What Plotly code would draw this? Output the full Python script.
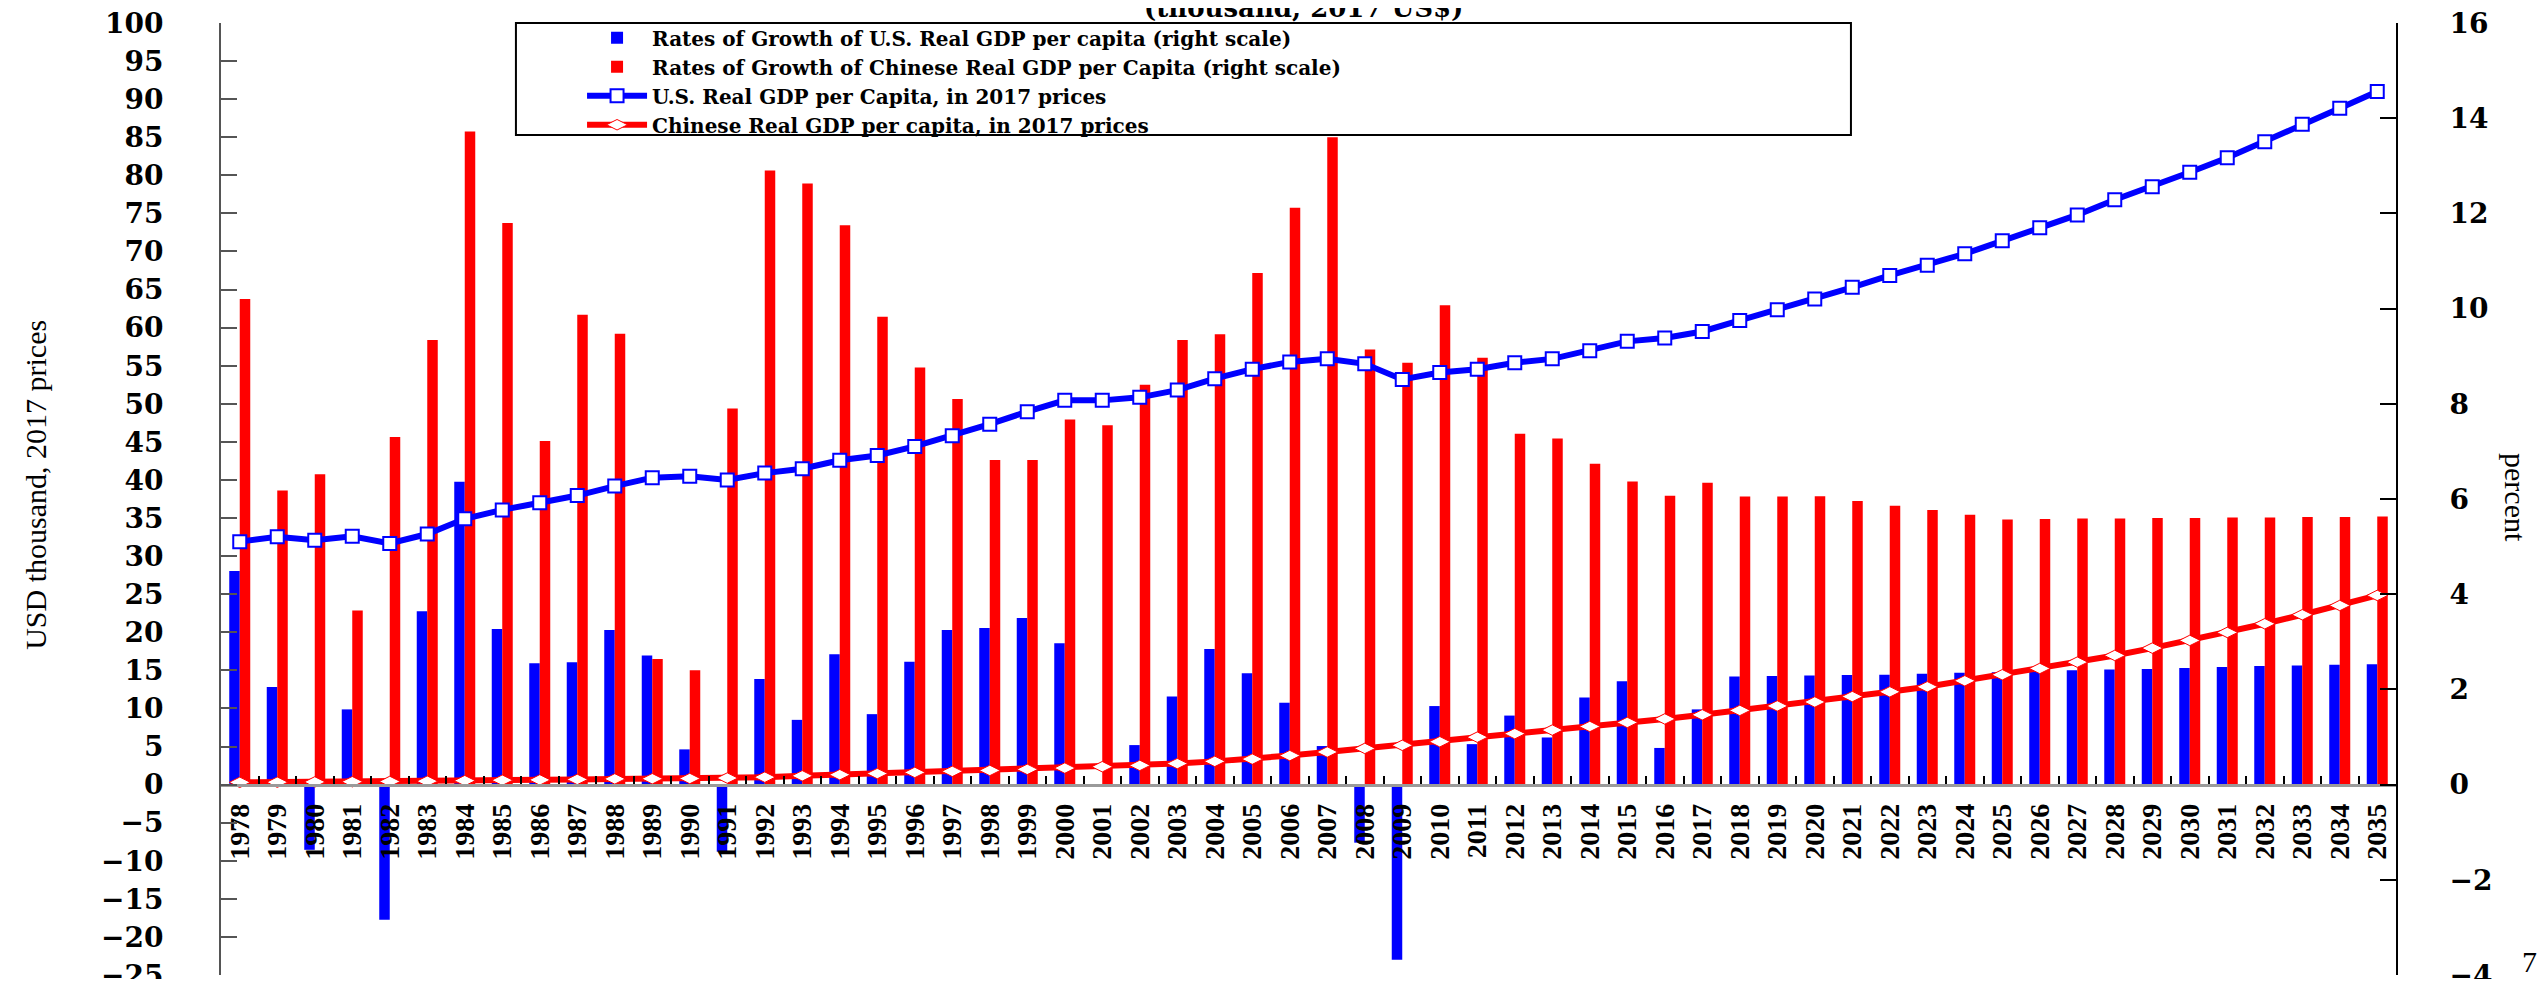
import plotly.graph_objects as go

years = [str(y) for y in range(1978, 2036)]

us_growth = [4.49, 2.05, -1.37, 1.58, -2.84, 3.64, 6.36, 3.27, 2.55, 2.57, 3.25, 2.71, 0.74, -1.41, 2.22,
             1.36, 2.74, 1.48, 2.58, 3.25, 3.29, 3.50, 2.97, 0.0, 0.83, 1.85, 2.85, 2.34, 1.72, 0.81,
             -1.22, -3.68, 1.65, 0.85, 1.45, 0.99, 1.83, 2.17, 0.77, 1.58, 2.27, 2.28, 2.29, 2.30, 2.31,
             2.33, 2.35, 2.36, 2.38, 2.40, 2.42, 2.43, 2.45, 2.47, 2.49, 2.50, 2.52, 2.53]

china_growth = [10.20, 6.18, 6.52, 3.66, 7.30, 9.34, 13.72, 11.80, 7.22, 9.87, 9.47, 2.64, 2.40, 7.90, 12.90,
                12.63, 11.75, 9.83, 8.76, 8.10, 6.82, 6.82, 7.67, 7.55, 8.40, 9.34, 9.46, 10.75, 12.12, 13.60,
                9.14, 8.86, 10.07, 8.97, 7.37, 7.27, 6.74, 6.37, 6.07, 6.34, 6.05, 6.05, 6.06, 5.96, 5.86,
                5.77, 5.67, 5.57, 5.58, 5.59, 5.59, 5.60, 5.60, 5.61, 5.61, 5.62, 5.62, 5.63]

us_gdp = [31.9, 32.55, 32.08, 32.6, 31.67, 32.9, 34.9, 36.07, 37.0, 37.95, 39.2, 40.3, 40.5, 40.0, 40.9,
          41.47, 42.58, 43.22, 44.4, 45.8, 47.33, 48.97, 50.45, 50.45, 50.85, 51.8, 53.3, 54.55, 55.5, 55.9,
          55.25, 53.2, 54.1, 54.55, 55.4, 55.9, 56.95, 58.2, 58.65, 59.5, 60.95, 62.35, 63.75, 65.3, 66.85,
          68.2, 69.7, 71.4, 73.1, 74.8, 76.8, 78.5, 80.4, 82.3, 84.4, 86.7, 88.8, 91.0]

china_gdp = [0.30, 0.32, 0.35, 0.38, 0.41, 0.45, 0.52, 0.58, 0.62, 0.68, 0.75, 0.77, 0.80, 0.86, 0.98,
             1.15, 1.30, 1.45, 1.60, 1.74, 1.86, 2.00, 2.17, 2.35, 2.52, 2.76, 3.05, 3.35, 3.81, 4.28,
             4.75, 5.16, 5.63, 6.23, 6.69, 7.16, 7.63, 8.16, 8.62, 9.16, 9.74, 10.33, 10.85, 11.56, 12.18,
             12.84, 13.63, 14.42, 15.25, 16.08, 16.96, 17.92, 18.93, 19.98, 21.12, 22.30, 23.52, 24.84]

names = ["Rates of Growth of U.S. Real GDP per capita (right scale)",
         "Rates of Growth of Chinese Real GDP per Capita (right scale)",
         "U.S. Real GDP per Capita, in 2017 prices",
         "Chinese Real GDP per capita, in 2017 prices"]

BLUE = "#0000FF"
RED = "#FF0000"
SERIF = "Liberation Serif, Times New Roman, serif"
WIDE = "DejaVu Serif, serif"

fig = go.Figure()
fig.add_trace(go.Bar(x=years, y=us_growth, name=names[0], marker=dict(color=BLUE, line=dict(width=0)), yaxis="y"))
fig.add_trace(go.Bar(x=years, y=china_growth, name=names[1], marker=dict(color=RED, line=dict(width=0)), yaxis="y"))
fig.add_trace(go.Scatter(x=years, y=us_gdp, name=names[2], mode="lines+markers", yaxis="y2",
                         line=dict(color=BLUE, width=6),
                         marker=dict(symbol="square", size=13, color="white", line=dict(color=BLUE, width=2))))
fig.add_trace(go.Scatter(x=years, y=china_gdp, name=names[3], mode="lines+markers", yaxis="y2",
                         line=dict(color=RED, width=6),
                         marker=dict(symbol="diamond-wide", size=15, color="white", line=dict(color=RED, width=1))))

# the page body adds an 8px margin, so the figure is sized/offset to compensate
fig.update_layout(
    width=2539, height=971,
    margin=dict(l=213, r=151, t=15, b=4, autoexpand=False),
    plot_bgcolor="white", paper_bgcolor="white",
    barmode="group", bargap=0.44, bargroupgap=0,
    showlegend=True,
    legend=dict(x=0.166, y=1.005, xanchor="left", yanchor="top", bgcolor="rgba(0,0,0,0)",
                borderwidth=0,
                font=dict(family=WIDE, size=20, color="black", weight="bold"),
                itemwidth=60, tracegroupgap=0),
    xaxis=dict(type="category", anchor="free", position=0.2, range=[-0.5, 57.5], automargin=False,
               showline=True, linecolor="#9a9a9a", linewidth=3,
               ticks="inside", tickson="boundaries", ticklen=8, tickwidth=1.5, tickcolor="black",
               tickangle=-90, tickmode="array", tickvals=years, ticktext=years,
               tickfont=dict(family=SERIF, size=28, color="black", weight="bold"),
               ticklabelstandoff=6, showgrid=False, zeroline=False),
    yaxis=dict(side="right", range=[-4, 16], dtick=2, tick0=0, automargin=False,
               showline=True, linecolor="black", linewidth=2,
               ticks="inside", ticklen=16, tickwidth=2, tickcolor="black",
               tickfont=dict(family=WIDE, size=28, color="black", weight="bold"),
               ticklabelstandoff=46, ticklabeloverflow="allow",
               showgrid=False, zeroline=False),
    yaxis2=dict(side="left", overlaying="y", range=[-25, 100], dtick=5, tick0=0, automargin=False,
                showline=True, linecolor="#555555", linewidth=2,
                ticks="inside", ticklen=16, tickwidth=2, tickcolor="#555555",
                tickfont=dict(family=WIDE, size=28, color="black", weight="bold"),
                ticklabelstandoff=50, ticklabeloverflow="allow",
                showgrid=False, zeroline=False),
)

# legend frame
fig.add_shape(type="rect", xref="paper", yref="paper", x0=0.1356, x1=0.7494, y0=0.8824, y1=1.0,
              line=dict(color="black", width=2), fillcolor="white", layer="above")

fig.add_annotation(text="(thousand, 2017 US$)", xref="paper", yref="paper", x=0.4975, y=1.0,
                   xanchor="center", yanchor="bottom", yshift=-2, showarrow=False,
                   font=dict(family=WIDE, size=26, color="black", weight="bold"))
fig.add_annotation(text="USD thousand, 2017 prices", xref="paper", yref="paper", x=-0.085, y=0.515,
                   xanchor="center", yanchor="middle", textangle=-90, showarrow=False,
                   font=dict(family=SERIF, size=30, color="black"))
fig.add_annotation(text="percent", xref="paper", yref="paper", x=1.0552, y=0.502,
                   xanchor="center", yanchor="middle", textangle=90, showarrow=False,
                   font=dict(family=SERIF, size=30, color="black"))
fig.add_annotation(text="7", xref="paper", yref="paper", x=1.0616, y=0.0137,
                   xanchor="center", yanchor="middle", showarrow=False,
                   font=dict(family=SERIF, size=30, color="black"))

fig.write_html("out.html")
